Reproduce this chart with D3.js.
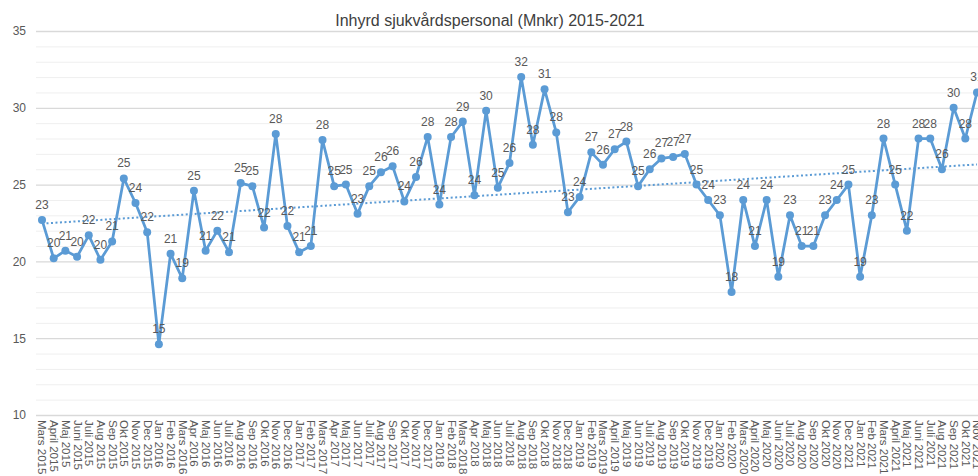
<!DOCTYPE html>
<html>
<head>
<meta charset="utf-8">
<script src="https://cdn.jsdelivr.net/npm/d3@7"></script>
<style>
  body { margin: 0; background: #fff; }
  text { font-family: "Liberation Sans", Arial, sans-serif; }
</style>
</head>
<body>
<div id="chart"></div>
<script>
// month labels as written in the source sheet
var months = [
  "Mars 2015", "April  2015", "Maj 2015", "Juni 2015", "Juli 2015", "Aug 2015", "Sep 2015", "Okt 2015", "Nov 2015", "Dec 2015",
  "Jan 2016", "Feb 2016", "Mars 2016", "Apr 2016", "Maj 2016", "Jun 2016", "Juli 2016", "Aug 2016", "Sep 2016", "Okt 2016", "Nov 2016", "Dec 2016",
  "Jan 2017", "Feb 2017", "Mars 2017", "Apr 2017", "Maj 2017", "Jun 2017", "Juli 2017", "Aug 2017", "Sep 2017", "Okt 2017", "Nov 2017", "Dec 2017",
  "Jan 2018", "Feb 2018", "Mars 2018", "Apr 2018", "Maj 2018", "Jun 2018", "Juli 2018", "Aug 2018", "Sep 2018", "Okt 2018", "Nov  2018", "Dec 2018",
  "Jan 2019", "Feb 2019", "Mars 2019", "April 2019", "Maj 2019", "Jun 2019", "Juli 2019", "Aug 2019", "Sep 2019", "Okt 2019", "Nov 2019", "Dec 2019",
  "Jan 2020", "Feb 2020", "Mars 2020", "April 2020", "Maj 2020", "Juni 2020", "Juli 2020", "Aug 2020", "Sep 2020", "Okt 2020", "Nov 2020", "Dec 2021",
  "Jan 2021", "Feb 2021", "Mars 2021", "April 2021", "Maj 2021", "Juni 2021", "Juli 2021", "Aug 2021", "Sep 2021", "Okt 2021", "Nov 2021"
];
// Mnkr per month
var values = [
  22.7, 20.2, 20.7, 20.3, 21.7, 20.1, 21.3, 25.4, 23.8, 21.9,
  14.6, 20.5, 18.9, 24.6, 20.7, 22.0, 20.6, 25.1, 24.9, 22.2, 28.3, 22.3,
  20.6, 21.0, 27.9, 24.9, 25.0, 23.1, 24.9, 25.8, 26.2, 23.9, 25.5, 28.1,
  23.7, 28.1, 29.1, 24.3, 29.8, 24.8, 26.4, 32.0, 27.6, 31.2, 28.4, 23.2,
  24.2, 27.1, 26.3, 27.3, 27.8, 24.9, 26.0, 26.7, 26.8, 27.0, 25.0, 24.0,
  23.0, 18.0, 24.0, 21.0, 24.0, 19.0, 23.0, 21.0, 21.0, 23.0, 24.0, 25.0,
  19.0, 23.0, 28.0, 25.0, 22.0, 28.0, 28.0, 26.0, 30.0, 28.0, 31.0
];
var yTicks = [10, 15, 20, 25, 30, 35];
var title = "Inhyrd sjukvårdspersonal (Mnkr) 2015-2021";

var W = 978, H = 476;
var svg = d3.select("#chart").append("svg")
    .attr("width", W)
    .attr("height", H);

var x = d3.scaleLinear()
    .domain([0, months.length - 1])
    .range([42, 977]);

var y = d3.scaleLinear()
    .domain([10, 35])
    .range([415, 31]);

// gridlines, every unit
svg.append("g")
  .selectAll("line")
  .data(d3.range(10, 36))
  .enter().append("line")
    .attr("x1", 36)
    .attr("x2", W)
    .attr("y1", function(d) { return y(d) + 0.5; })
    .attr("y2", function(d) { return y(d) + 0.5; })
    .attr("stroke", function(d) { return d % 5 == 0 ? "#d9d9d9" : "#efefef"; })
    .attr("stroke-width", function(d) { return d % 5 == 0 ? 1.3 : 1; });

// y axis labels
var yAxis = svg.append("g")
    .attr("transform", "translate(30,0)")
    .call(d3.axisLeft(y).tickValues(yTicks).tickSize(0).tickPadding(4));
yAxis.select(".domain").remove();
yAxis.selectAll("text")
    .attr("fill", "#595959")
    .style("font-size", "12px");

// x axis labels
var xAxis = svg.append("g")
    .attr("transform", "translate(0,418)")
    .call(d3.axisBottom(x)
      .tickValues(d3.range(months.length))
      .tickFormat(function(i) { return months[i]; })
      .tickSize(0));
xAxis.select(".domain").remove();
xAxis.selectAll("text")
    .attr("fill", "#595959")
    .style("font-size", "11.5px")
    .attr("text-anchor", "start")
    .attr("transform", "rotate(90)")
    .attr("x", 2)
    .attr("y", 0)
    .attr("dy", "0.35em");

// linear trend
var n = values.length;
var mx = d3.mean(d3.range(n)), my = d3.mean(values);
var sxy = d3.sum(values, function(v, i) { return (i - mx) * (v - my); });
var sxx = d3.sum(d3.range(n), function(i) { return (i - mx) * (i - mx); });
var slope = sxy / sxx, icpt = my - slope * mx;
svg.append("line")
    .attr("x1", x(0))
    .attr("x2", x(n - 1))
    .attr("y1", y(icpt))
    .attr("y2", y(icpt + slope * (n - 1)))
    .attr("stroke", "#5b9bd5")
    .attr("stroke-width", 2)
    .attr("stroke-dasharray", "2,2.5");

// series line
var line = d3.line()
    .x(function(d, i) { return x(i); })
    .y(function(d) { return y(d); });

svg.append("path")
    .datum(values)
    .attr("fill", "none")
    .attr("stroke", "#5b9bd5")
    .attr("stroke-width", 2.75)
    .attr("stroke-linejoin", "round")
    .attr("d", line);

svg.append("g")
  .selectAll("circle")
  .data(values)
  .enter().append("circle")
    .attr("cx", function(d, i) { return x(i); })
    .attr("cy", function(d) { return y(d); })
    .attr("r", 4)
    .attr("fill", "#5b9bd5");

// data labels
svg.append("g")
  .selectAll("text")
  .data(values)
  .enter().append("text")
    .attr("x", function(d, i) { return x(i); })
    .attr("y", function(d) { return y(d) - 11; })
    .attr("text-anchor", "middle")
    .attr("fill", "#595959")
    .style("font-size", "12px")
    .text(function(d) { return d3.format(".0f")(d); });

// title
svg.append("text")
    .attr("x", 490)
    .attr("y", 26)
    .attr("text-anchor", "middle")
    .attr("fill", "#404040")
    .style("font-size", "16px")
    .text(title);
</script>
</body>
</html>
